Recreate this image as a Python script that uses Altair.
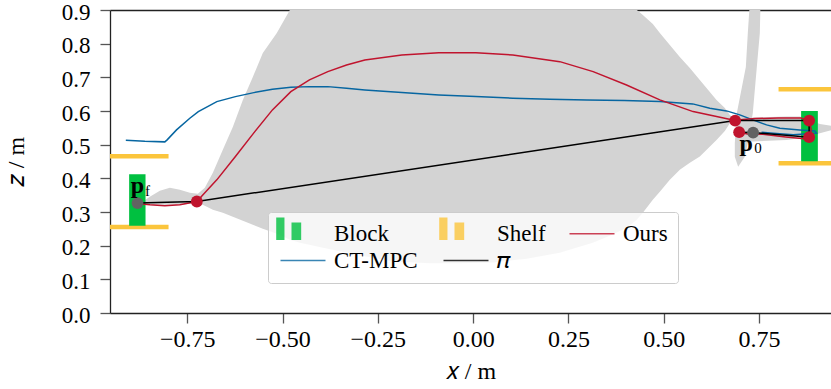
import altair as alt
import pandas as pd

FONT = "Liberation Serif"
GRAY = "#d3d3d3"

# ---- reachable region (gray), main blob: x, upper z, lower z
blob_x = [-0.8744, -0.8481, -0.8219, -0.7956, -0.7694, -0.7432, -0.7222, -0.7038, -0.6828, -0.6566,
          -0.6304, -0.6041, -0.5779, -0.5517, -0.5150, -0.4808, -0.4546, -0.3943, -0.3051, -0.2106,
          -0.1136, -0.0349, 0.0517, 0.1409, 0.2274, 0.3140, 0.3586, 0.4032, 0.4294, 0.4452,
          0.4714, 0.4898, 0.5160, 0.5422, 0.5685, 0.5947, 0.6385, 0.6603, 0.6734, 0.6839]
blob_hi = [0.3243, 0.3451, 0.3629, 0.3718, 0.3659, 0.3570, 0.3540, 0.3718, 0.4163, 0.4846,
           0.5528, 0.6329, 0.7012, 0.7724, 0.8318, 0.9000, 0.95, 0.95, 0.95, 0.95,
           0.95, 0.95, 0.95, 0.95, 0.95, 0.95, 0.95, 0.95, 0.9000, 0.8852,
           0.8585, 0.8318, 0.7961, 0.7605, 0.7279, 0.6923, 0.6329, 0.6092, 0.5884, 0.5780]
blob_lo = [0.3214, 0.3214, 0.3214, 0.3214, 0.3214, 0.3243, 0.3273, 0.3184, 0.3065, 0.2976,
           0.2858, 0.2739, 0.2620, 0.2501, 0.2353, 0.2175, 0.2086, 0.1938, 0.1730, 0.1531,
           0.1478, 0.1478, 0.1501, 0.1611, 0.1789, 0.2086, 0.2294, 0.2531, 0.2769, 0.2976,
           0.3362, 0.3599, 0.3955, 0.4252, 0.4460, 0.4647, 0.5142, 0.5409, 0.5638, 0.5780]
# vertical spike: z, left x, right x
spike_z = [0.945, 0.900, 0.8318, 0.7309, 0.5944, 0.5053, 0.4638, 0.4341]
spike_l = [0.7232, 0.7246, 0.7206, 0.7154, 0.6918, 0.6865, 0.6865, 0.6952]
spike_r = [0.7547, 0.7534, 0.7521, 0.7442, 0.7337, 0.7206, 0.7127, 0.6952]
# horizontal tail: x, upper z, lower z
tail_x = [0.6996, 0.7337, 0.8221, 0.8570, 0.9095, 0.9488]
tail_hi = [0.5766, 0.5810, 0.5834, 0.5834, 0.5617, 0.5543]
tail_lo = [0.5113, 0.5092, 0.5142, 0.5193, 0.5341, 0.5454]

# ---- trajectories
ours_x = [0.6978, 0.7200, 0.7600, 0.8200, 0.8814, 0.8870, 0.8814, 0.8600, 0.8000, 0.7400,
          0.7000, 0.6873, 0.6385, 0.5771, 0.4898, 0.4024, 0.3148, 0.2274, 0.1041, 0.0071,
          -0.0900, -0.1870, -0.2841, -0.3321, -0.3812, -0.4294, -0.4782, -0.5265, -0.5753, -0.6236,
          -0.6724, -0.7038, -0.7248, -0.7694, -0.8088, -0.8481, -0.8744]
ours_z = [0.5371, 0.5320, 0.5306, 0.5231, 0.5163, 0.5450, 0.5715, 0.5790, 0.5795, 0.5775,
          0.5740, 0.5715, 0.5834, 0.5982, 0.6329, 0.6774, 0.7169, 0.7466, 0.7665, 0.7733,
          0.7733, 0.7665, 0.7516, 0.7368, 0.7169, 0.6923, 0.6576, 0.6033, 0.5350, 0.4647,
          0.3955, 0.3570, 0.3312, 0.3214, 0.3184, 0.3214, 0.3243]
ct_x = [0.7566, 0.7870, 0.8395, 0.9008, 0.8964, 0.8570, 0.8046, 0.7697, 0.7337, 0.6996,
        0.6647, 0.6209, 0.5763, 0.4898, 0.3964, 0.2983, 0.2012, 0.1041, 0.0071, -0.0900,
        -0.1870, -0.2841, -0.3321, -0.3812, -0.4294, -0.4782, -0.5265, -0.5753, -0.6236, -0.6724,
        -0.7209, -0.7432, -0.7781, -0.8027, -0.8088, -0.8612, -0.9111]
ct_z = [0.5371, 0.5341, 0.5291, 0.5341, 0.5409, 0.5439, 0.5490, 0.5588, 0.5736, 0.5884,
        0.6003, 0.6083, 0.6211, 0.6279, 0.6309, 0.6329, 0.6350, 0.6380, 0.6427, 0.6478,
        0.6546, 0.6626, 0.6677, 0.6724, 0.6724, 0.6706, 0.6647, 0.6546, 0.6427, 0.6279,
        0.5982, 0.5786, 0.5439, 0.5142, 0.5083, 0.5098, 0.5134]
pi_x = [0.6978, 0.7345, 0.8814, 0.8814, 0.6873, -0.7248, -0.8804]
pi_z = [0.5371, 0.5359, 0.5223, 0.5715, 0.5715, 0.3312, 0.3264]

# ---- points
red_x = [-0.7248, 0.6873, 0.6978, 0.8814, 0.8814]
red_z = [0.3312, 0.5715, 0.5371, 0.5715, 0.5223]
gray_x = [-0.8804, 0.7345]
gray_z = [0.3264, 0.5359]

# ---- blocks and shelves
block_x1 = [-0.9024, 0.8604]
block_x2 = [-0.8594, 0.9043]
block_z1 = [0.2591, 0.4510]
block_z2 = [0.4125, 0.6003]
shelf_x1 = [-0.9600, -0.9600, 0.8012, 0.8012]
shelf_x2 = [-0.7990, -0.7990, 0.9700, 0.9700]
shelf_z = [0.4653, 0.2552, 0.6647, 0.4451]

# ---- labels / legend
series = ["Block", "Shelf", "Ours", "CT-MPC", "π"]
colors = ["#00c040", "#fbc53c", "#c0142e", "#0766a1", "#000000"]
legend_opacity = [0.8, 0.8, 1.0, 1.0, 1.0]
x_ticks = [-0.75, -0.5, -0.25, 0.0, 0.25, 0.5, 0.75]
y_ticks = [0.0, 0.1, 0.2, 0.3, 0.4, 0.5, 0.6, 0.7, 0.8, 0.9]
point_main = ["p", "p"]
point_sub = ["f", "0"]
COL = dict(zip(series, colors))

xs = alt.Scale(domain=[-0.9526, 0.9388], nice=False, zero=False)
ys = alt.Scale(domain=[0.0, 0.9], nice=False, zero=False)
cs = alt.Scale(domain=series, range=colors)

BAR_PATH = "M-1.39,-1.48H-0.64V0.57H-1.39Z M0,-1.03H0.88V0.57H0Z"
LINE_PATH = "M-1,-0.073H3.09V0.073H-1Z"
shape_scale = alt.Scale(domain=series, range=[BAR_PATH, BAR_PATH, LINE_PATH, LINE_PATH, LINE_PATH])
op_scale = alt.Scale(domain=series, range=legend_opacity)

legend = alt.Legend(
    title=None, orient="none", legendX=158, legendY=202, columns=3, direction="horizontal",
    labelFont=FONT, labelFontSize=23, labelColor="black", labelOffset=31, symbolOffset=2,
    labelExpr="datum.label == 'π' ? '𝜋' : datum.label",
    symbolSize=484, padding=10, rowPadding=3, columnPadding=21,
    symbolStrokeWidth=0,
    fillColor="rgba(255,255,255,0.8)", strokeColor="#cccccc", cornerRadius=3,
)

x_axis = alt.Axis(values=x_ticks, format=".2f", title="𝑥 / m", grid=False,
                  labelFont=FONT, labelFontSize=24, labelColor="black", labelPadding=4,
                  tickSize=10, tickColor="#555555", tickWidth=1.3,
                  domainColor="#222222", domainWidth=1.3,
                  titleFont=FONT, titleFontSize=24, titleFontWeight="normal",
                  titleColor="black", titlePadding=8)
y_axis = alt.Axis(values=y_ticks, format=".1f", title="𝑧 / m", grid=False,
                  labelFont=FONT, labelFontSize=23, labelColor="black", labelPadding=10,
                  labelOffset=2,
                  tickSize=10, tickColor="#555555", tickWidth=1.3,
                  domainColor="#222222", domainWidth=1.3,
                  titleFont=FONT, titleFontSize=24, titleFontWeight="normal",
                  titleColor="black", titlePadding=33)
top_axis = alt.Axis(orient="top", labels=False, ticks=False, title="", grid=False,
                    domainColor="#222222", domainWidth=1.3)

blob_df = pd.DataFrame({"x": blob_x, "hi": blob_hi, "lo": blob_lo})
spike_df = pd.DataFrame({"z": spike_z, "l": spike_l, "r": spike_r})
tail_df = pd.DataFrame({"x": tail_x, "hi": tail_hi, "lo": tail_lo})

blob = alt.Chart(blob_df).mark_area(color=GRAY, clip=True).encode(
    x=alt.X("x:Q", scale=xs, axis=x_axis),
    y=alt.Y("hi:Q", scale=ys, axis=y_axis),
    y2="lo:Q",
)
spike = alt.Chart(spike_df).mark_area(color=GRAY, clip=True, orient="horizontal").encode(
    y=alt.Y("z:Q", scale=ys, axis=None),
    x=alt.X("l:Q", scale=xs, axis=top_axis),
    x2="r:Q",
)
tail = alt.Chart(tail_df).mark_area(color=GRAY, clip=True).encode(
    x=alt.X("x:Q", scale=xs, axis=None),
    y=alt.Y("hi:Q", scale=ys, axis=None),
    y2="lo:Q",
)

shelf_df = pd.DataFrame({"x1": shelf_x1, "x2": shelf_x2, "z": shelf_z})
shelves = alt.Chart(shelf_df).mark_rule(strokeWidth=4.5, clip=True, strokeCap="butt",
                                        color=COL["Shelf"]).encode(
    x=alt.X("x1:Q", scale=xs, axis=None), x2="x2:Q",
    y=alt.Y("z:Q", scale=ys, axis=None),
)
block_df = pd.DataFrame({"x1": block_x1, "x2": block_x2, "z1": block_z1, "z2": block_z2})
blocks = alt.Chart(block_df).mark_rect(clip=True, color=COL["Block"]).encode(
    x=alt.X("x1:Q", scale=xs, axis=None), x2="x2:Q",
    y=alt.Y("z1:Q", scale=ys, axis=None), y2="z2:Q",
)

def traj(xv, zv, name):
    df = pd.DataFrame({"x": xv, "z": zv, "i": list(range(len(xv)))})
    return alt.Chart(df).mark_line(strokeWidth=1.5, clip=True, color=COL[name]).encode(
        x=alt.X("x:Q", scale=xs, axis=None),
        y=alt.Y("z:Q", scale=ys, axis=None),
        order="i:Q",
    )

blue = traj(ct_x, ct_z, "CT-MPC")
red = traj(ours_x, ours_z, "Ours")
black = traj(pi_x, pi_z, "π")

red_pts = alt.Chart(pd.DataFrame({"x": red_x, "z": red_z})).mark_circle(
    size=140, opacity=1, color="#c0142e").encode(
    x=alt.X("x:Q", scale=xs, axis=None), y=alt.Y("z:Q", scale=ys, axis=None))
gray_pts = alt.Chart(pd.DataFrame({"x": gray_x, "z": gray_z})).mark_circle(
    size=140, opacity=1, color="#626262").encode(
    x=alt.X("x:Q", scale=xs, axis=None), y=alt.Y("z:Q", scale=ys, axis=None))

def label(i, text, dx, dy, size, bold):
    df = pd.DataFrame({"x": [gray_x[i]], "z": [gray_z[i]], "t": [text]})
    return alt.Chart(df).mark_text(font=FONT, fontSize=size, fontWeight="bold" if bold else "normal",
                                   color="black", align="center", baseline="alphabetic",
                                   dx=dx, dy=dy).encode(
        x=alt.X("x:Q", scale=xs, axis=None), y=alt.Y("z:Q", scale=ys, axis=None), text="t:N")

texts = [
    label(0, point_main[0], 0, -10, 24, True),
    label(0, point_sub[0], 10, -7, 15, False),
    label(1, point_main[1], -7, 18, 24, True),
    label(1, point_sub[1], 5, 20, 15, False),
]

# legend-only layer: entries come from the explicit scale domains
legend_layer = alt.Chart(pd.DataFrame({"series": series})).transform_filter("false").mark_point(
    filled=True).encode(
    color=alt.Color("series:N", scale=cs, legend=legend),
    shape=alt.Shape("series:N", scale=shape_scale, legend=legend),
    opacity=alt.Opacity("series:N", scale=op_scale, legend=legend),
)

chart = alt.layer(blob, spike, tail, shelves, blocks, blue, red, black, red_pts, gray_pts, *texts,
                  legend_layer
).resolve_axis(x="independent", y="independent").properties(
    width=721, height=303,
    padding={"left": 110, "top": 10, "right": 0, "bottom": 76},
    autosize=alt.AutoSizeParams(type="none"),
).configure_view(strokeWidth=0).configure(font=FONT, background="white")

chart.save("out.html", embed_options={"renderer": "svg", "actions": False})
